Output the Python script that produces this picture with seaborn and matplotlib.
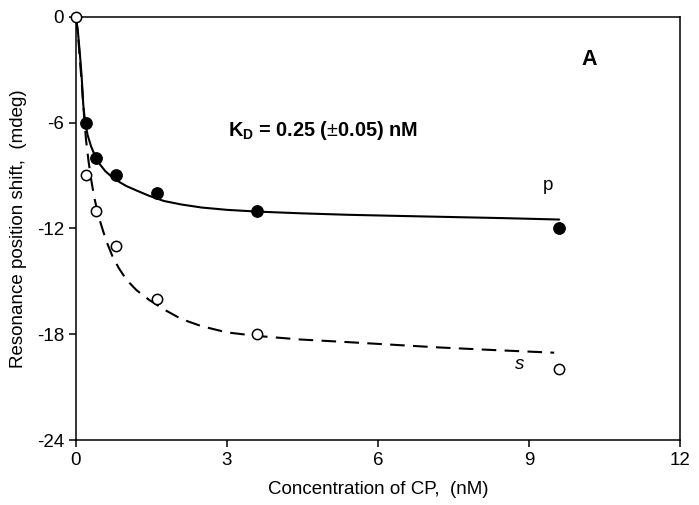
import numpy as np
import pandas as pd
import matplotlib
matplotlib.use("Agg")
import matplotlib.pyplot as plt
import seaborn as sns

# measured points
conc = [0.0, 0.2, 0.4, 0.8, 1.6, 3.6, 9.6]
shift_p = [0.0, -6.0, -8.0, -9.0, -10.0, -11.0, -12.0]
shift_s = [0.0, -9.0, -11.0, -13.0, -16.0, -18.0, -20.0]

# fitted curves
fit_p_x = [0, 0.04, 0.08, 0.113, 0.145, 0.18, 0.23, 0.3, 0.38, 0.47, 0.58, 0.7, 0.85, 1.0,
           1.2, 1.45, 1.75, 2.1, 2.5, 3.0, 3.6, 4.5, 5.4, 6.5, 7.5, 8.5, 9.6]
fit_p_y = [0, -0.9, -2.2, -3.4, -5.0, -5.95, -6.7, -7.35, -7.9, -8.35, -8.75, -9.05, -9.35, -9.6,
           -9.85, -10.15, -10.45, -10.65, -10.82, -10.95, -11.05, -11.15, -11.23, -11.3, -11.36, -11.42, -11.5]
fit_s_x = [0, 0.04, 0.08, 0.12, 0.16, 0.2, 0.25, 0.3, 0.36, 0.43, 0.5, 0.6, 0.72, 0.85, 1.0,
           1.2, 1.45, 1.75, 2.1, 2.5, 3.0, 3.6, 4.45, 5.4, 6.3, 7.2, 8.3, 9.5]
fit_s_y = [0, -1.0, -2.5, -4.0, -5.6, -7.0, -8.2, -9.2, -10.2, -11.1, -11.8, -12.7, -13.55, -14.25, -14.9,
           -15.5, -16.05, -16.6, -17.15, -17.55, -17.9, -18.1, -18.3, -18.45, -18.6, -18.75, -18.9, -19.05]

sns.set_style("ticks")
plt.rcParams['font.family'] = ['Liberation Sans', 'DejaVu Sans']
plt.rcParams['mathtext.fontset'] = 'custom'
plt.rcParams['mathtext.rm'] = 'Liberation Sans'
plt.rcParams['mathtext.bf'] = 'Liberation Sans:bold'
plt.rcParams['axes.unicode_minus'] = False
plt.rcParams['text.color'] = 'black'
plt.rcParams['axes.labelcolor'] = 'black'

fig = plt.figure(figsize=(6.99, 5.05), dpi=100)
ax = fig.add_axes([0.1087, 0.1287, 0.8641, 0.8382])

sns.lineplot(x=fit_p_x, y=fit_p_y, ax=ax, color='black', linewidth=1.5)
sns.lineplot(x=fit_s_x, y=fit_s_y, ax=ax, color='black', linewidth=1.5,
             linestyle=(0, (7, 4)))

sns.scatterplot(x=conc[1:], y=shift_p[1:], ax=ax, color='black', s=70,
                edgecolor='black', linewidth=0.8, zorder=4)
sns.scatterplot(x=conc, y=shift_s, ax=ax, facecolor='white', s=55,
                edgecolor='black', linewidth=1.1, zorder=5, clip_on=False)

ax.set_xlim(0, 12)
ax.set_ylim(-24, 0)
ax.set_xticks([0, 3, 6, 9, 12])
ax.set_yticks([-24, -18, -12, -6, 0])
ax.tick_params(direction='out', length=5, width=1.1, labelsize=13.5, colors='black')
for sp in ax.spines.values():
    sp.set_visible(True)
    sp.set_linewidth(1.1)
    sp.set_color('black')

ax.set_xlabel('Concentration of CP,  (nM)', fontsize=13.5, labelpad=9, color='black')
ax.set_ylabel('Resonance position shift,  (mdeg)', fontsize=13.5, labelpad=7, color='black')

ax.text(3.02, -6.45, r'K$_\mathbf{D}$ = 0.25 ($\pm$0.05) nM', fontsize=14.3,
        fontweight='bold', va='center', ha='left', color='black')
ax.text(10.2, -2.45, 'A', fontsize=15.5, fontweight='bold', ha='center', va='center', color='black')
ax.text(9.38, -9.55, 'p', fontsize=13.5, ha='center', va='center', color='black')
ax.text(8.82, -19.7, 's', fontsize=13.5, style='italic', ha='center', va='center', color='black')

fig.savefig('out.png', dpi=100)
